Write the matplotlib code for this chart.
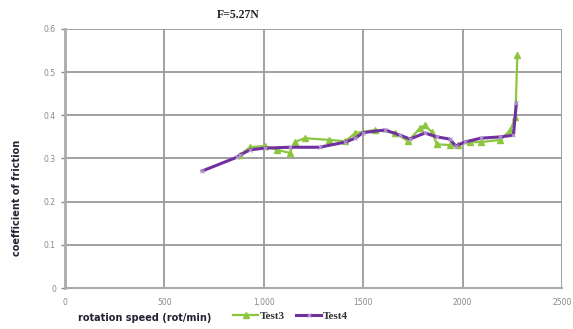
import matplotlib
matplotlib.use("Agg")
import matplotlib.pyplot as plt

# Test3 (green, triangles)
test3_speed = [880, 930, 1005, 1065, 1130, 1155, 1205, 1330, 1410, 1460, 1560, 1660,
               1725, 1785, 1810, 1845, 1870, 1935, 1975, 2035, 2090, 2190, 2240, 2265, 2275]
test3_cof = [0.308, 0.326, 0.329, 0.320, 0.313, 0.338, 0.347, 0.343, 0.340, 0.359, 0.366, 0.359,
             0.340, 0.370, 0.377, 0.361, 0.333, 0.331, 0.331, 0.338, 0.338, 0.343, 0.366, 0.396, 0.54]

# Test4 (purple, crosses)
test4_speed = [690, 865, 880, 930, 1005, 1130, 1280, 1410, 1460, 1500, 1610, 1685, 1735,
               1810, 1870, 1935, 1965, 2010, 2090, 2190, 2255, 2270]
test4_cof = [0.271, 0.303, 0.308, 0.320, 0.324, 0.326, 0.326, 0.338, 0.347, 0.360, 0.366, 0.354,
             0.345, 0.359, 0.350, 0.345, 0.329, 0.338, 0.347, 0.350, 0.354, 0.428]

x_ticks = [0, 500, 1000, 1500, 2000, 2500]
x_labels = ["0", "500", "1,000", "1500", "2000", "2500"]
y_ticks = [0, 0.1, 0.2, 0.3, 0.4, 0.5, 0.6]
y_labels = ["0", "0.1", "0.2", "0.3", "0.4", "0.5", "0.6"]

fig = plt.figure(figsize=(5.73, 3.29), dpi=100)
ax = fig.add_axes([0.1134, 0.1246, 0.8676, 0.7874])

ax.plot(test3_speed, test3_cof, color="#8CC63F", lw=1.6, marker="^", ms=4,
        label="Test3", zorder=3)
ax.plot(test4_speed, test4_cof, color="#7030A0", lw=2.2, marker="x", ms=3,
        mec="#B8A0D0", mew=0.8, label="Test4", zorder=4)

ax.set_xlim(0, 2500)
ax.set_ylim(0, 0.6)
ax.set_xticks(x_ticks)
ax.set_xticklabels(x_labels)
ax.set_yticks(y_ticks)
ax.set_yticklabels(y_labels)
ax.tick_params(labelsize=5.5, colors="#888888", length=3, width=1)
ax.tick_params(axis="x", length=0, pad=7)

ax.grid(True, color="#9A9A9A", lw=1.3)
ax.set_axisbelow(True)
for s in ["top", "right"]:
    ax.spines[s].set_visible(False)
ax.spines["left"].set_color("#AAAAAA")
ax.spines["left"].set_linewidth(2)
ax.spines["bottom"].set_color("#AAAAAA")
ax.spines["bottom"].set_linewidth(1.5)

fig.text(0.415, 0.955, "F=5.27N", fontsize=8.5, fontweight="bold",
         family="Liberation Serif", ha="center", va="center", color="#222222")
fig.text(0.03, 0.40, "coefficient of friction", rotation=90, fontsize=7,
         fontweight="bold", ha="center", va="center", color="#222233")
fig.text(0.136, 0.032, "rotation speed (rot/min)", fontsize=7,
         fontweight="bold", ha="left", va="center", color="#222233")

leg = fig.legend(loc="center left", bbox_to_anchor=(0.39, 0.04), ncol=2, frameon=False,
                 prop={"family": "Liberation Serif", "size": 8, "weight": "bold"},
                 handlelength=2.2, columnspacing=1.0, handletextpad=0.2)
for t in leg.get_texts():
    t.set_color("#333333")

fig.savefig("out.png", dpi=100)
